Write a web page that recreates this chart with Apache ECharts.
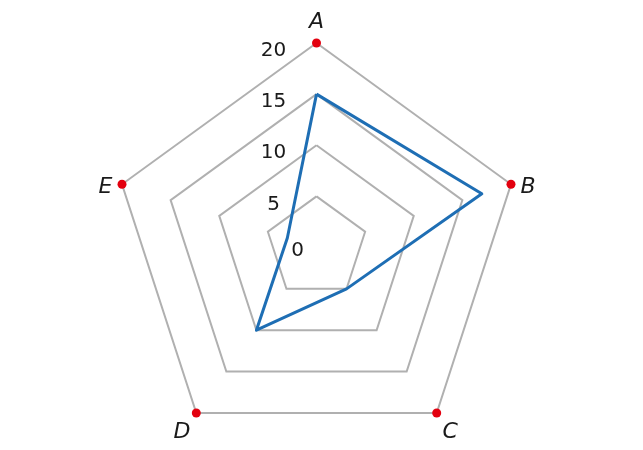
<!DOCTYPE html>
<html>
<head>
<meta charset="utf-8">
<script src="https://cdn.jsdelivr.net/npm/echarts@6/dist/echarts.min.js"></script>
<style>
html,body{margin:0;padding:0;background:#fff;}
#chart{width:643px;height:450px;}
</style>
</head>
<body>
<div id="chart"></div>
<script>
var categories = ['A', 'B', 'C', 'D', 'E'];
var seriesValues = [15, 17, 5, 10, 3];
var axisMin = 0;
var axisMax = 20;
var axisInterval = 5;

var chart = echarts.init(document.getElementById('chart'), null, {renderer: 'canvas'});

// ECharts radar runs counter-clockwise; reorder so categories go clockwise
var order = [0];
for (var k = categories.length - 1; k >= 1; k--) order.push(k);

var indicators = order.map(function (i) {
  var ind = {name: categories[i], min: axisMin, max: axisMax};
  if (i === 0) {
    ind.axisLabel = {
      show: true,
      fontSize: 20,
      color: '#1a1a1a',
      fontFamily: 'DejaVu Sans',
      align: 'center',
      verticalAlign: 'middle',
      margin: 43,
      formatter: function (v) {
        return v === 0 ? '{z|0}' : '{n|' + v + '}';
      },
      rich: {
        n: {fontSize: 20, color: '#1a1a1a', fontFamily: 'DejaVu Sans', padding: [16, 0, 0, 0]},
        z: {fontSize: 20, color: '#1a1a1a', fontFamily: 'DejaVu Sans', padding: [7, 0, 0, 48]}
      }
    };
  }
  return ind;
});

var nameBase = {color: '#1a1a1a', fontSize: 22, fontStyle: 'italic', fontFamily: 'DejaVu Sans'};

var option = {
  animation: false,
  backgroundColor: '#ffffff',
  radar: {
    center: [316.5, 247.5],
    radius: 204.5,
    startAngle: 90,
    shape: 'polygon',
    splitNumber: (axisMax - axisMin) / axisInterval,
    indicator: indicators,
    axisName: {
      color: '#1a1a1a',
      fontSize: 22,
      fontStyle: 'italic',
      fontFamily: 'DejaVu Sans',
      formatter: function (name) {
        var idx = categories.indexOf(name);
        if (idx === 2 || idx === 3) return '{low|' + name + '}';
        if (idx === 1 || idx === 4) return '{side|' + name + '}';
        return '{n|' + name + '}';
      },
      rich: {
        n: nameBase,
        side: Object.assign({}, nameBase, {padding: [13, 0, 0, 0]}),
        low: Object.assign({}, nameBase, {padding: [22, 0, 0, 0]})
      }
    },
    nameGap: 10,
    axisLine: {show: false},
    axisTick: {show: false},
    axisLabel: {show: false},
    splitLine: {lineStyle: {color: '#b0b0b0', width: 2}},
    splitArea: {show: false}
  },
  series: [
    {
      type: 'radar',
      silent: true,
      symbol: 'circle',
      symbolSize: 9,
      data: [{
        value: order.map(function () { return axisMax; }),
        lineStyle: {opacity: 0, width: 0},
        itemStyle: {color: '#e3000f'}
      }],
      z: 3
    },
    {
      type: 'radar',
      symbol: 'none',
      data: [{
        value: order.map(function (i) { return seriesValues[i]; }),
        lineStyle: {color: '#1e6eb4', width: 3},
        itemStyle: {color: '#1e6eb4'}
      }],
      z: 2
    }
  ]
};
chart.setOption(option);
</script>
</body>
</html>
